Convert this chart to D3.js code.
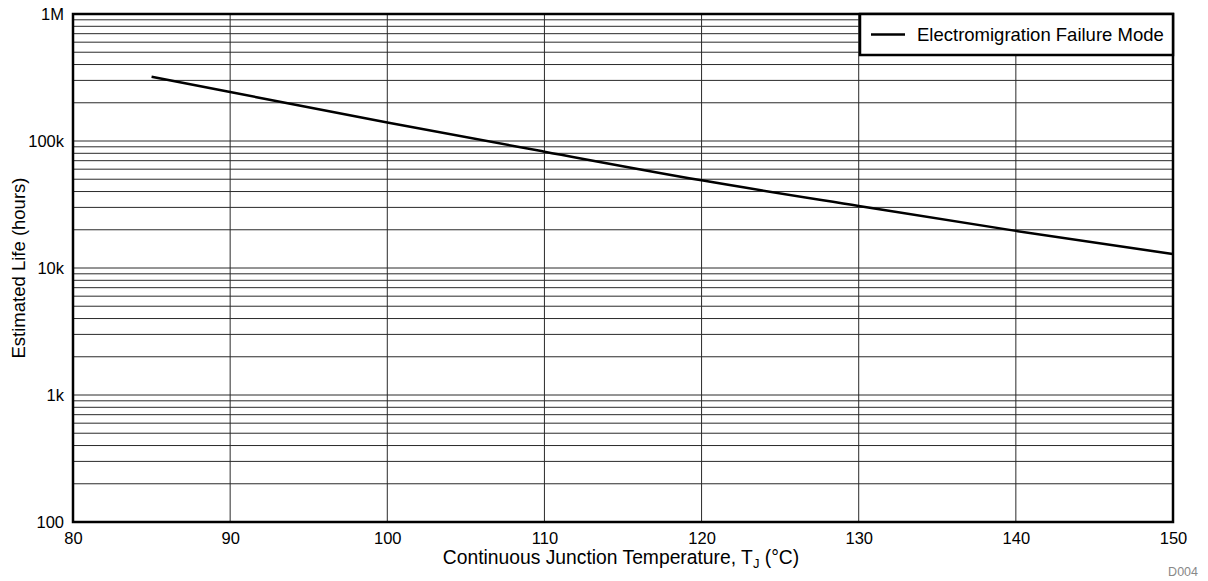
<!DOCTYPE html>
<html lang="en">
<head>
<meta charset="UTF-8">
<title>Estimated Life vs Junction Temperature</title>
<script src="https://cdn.jsdelivr.net/npm/d3@7/dist/d3.min.js"></script>
<style>
  body { margin: 0; background: #fff; }
  text { font-family: "Liberation Sans", Arial, sans-serif; fill: #000; }
</style>
</head>
<body>
<div id="container"></div>
<script>
// data
let temps = [85, 90, 100, 110, 120, 130, 140, 150];
let life = [321000, 243000, 140000, 82400, 49000, 30800, 19600, 12900];
let xTicks = [80, 90, 100, 110, 120, 130, 140, 150];
let yTicks = [100, 1000, 10000, 100000, 1000000];
let yTickLabels = ["100", "1k", "10k", "100k", "1M"];
let seriesName = "Electromigration Failure Mode";

let W = 1208, H = 581;
let margin = {left: 73, right: 35, top: 14, bottom: 59};

let svg = d3.select('#container')
    .append('svg')
    .attr('width', W)
    .attr('height', H);

let x = d3.scaleLinear()
    .domain([80, 150])
    .range([margin.left, W - margin.right]);

let y = d3.scaleLog()
    .domain([100, 1000000])
    .range([H - margin.bottom, margin.top]);

// grid
let grid = svg.append('g').attr('stroke', '#2a2a2a').attr('stroke-width', 1);
grid.selectAll('line.h')
    .data(y.ticks())
    .enter().append('line')
    .attr('x1', x.range()[0]).attr('x2', x.range()[1])
    .attr('y1', d => y(d)).attr('y2', d => y(d));
grid.selectAll('line.v')
    .data(xTicks.slice(1, -1))
    .enter().append('line')
    .attr('x1', d => x(d)).attr('x2', d => x(d))
    .attr('y1', y.range()[0]).attr('y2', y.range()[1]);

// axes (labels only)
let yAxis = svg.append('g')
    .attr('transform', 'translate(' + margin.left + ',0)')
    .call(d3.axisLeft(y).tickValues(yTicks).tickSize(0).tickPadding(9)
        .tickFormat((d, i) => yTickLabels[i]));
let xAxis = svg.append('g')
    .attr('transform', 'translate(0,' + (H - margin.bottom) + ')')
    .call(d3.axisBottom(x).tickValues(xTicks).tickSize(0).tickPadding(10)
        .tickFormat(d3.format('d')));
[xAxis, yAxis].forEach(a => {
    a.select('.domain').remove();
    a.selectAll('text').attr('font-size', 16.5).attr('font-family', '"Liberation Sans", Arial, sans-serif');
});

// series line
let line = d3.line()
    .x((d, i) => x(temps[i]))
    .y(d => y(d))
    .curve(d3.curveMonotoneX);
svg.append('path')
    .datum(life)
    .attr('d', line)
    .attr('fill', 'none')
    .attr('stroke', '#000')
    .attr('stroke-width', 2.5);

// frame
svg.append('rect')
    .attr('x', x.range()[0]).attr('y', y.range()[1])
    .attr('width', x.range()[1] - x.range()[0])
    .attr('height', y.range()[0] - y.range()[1])
    .attr('fill', 'none')
    .attr('stroke', '#000')
    .attr('stroke-width', 2.5);

// legend
let lg = svg.append('g');
lg.append('rect')
    .attr('x', 860).attr('y', y.range()[1])
    .attr('width', x.range()[1] - 860).attr('height', 41)
    .attr('fill', '#fff')
    .attr('stroke', '#000')
    .attr('stroke-width', 2.5);
lg.append('line')
    .attr('x1', 871).attr('x2', 905)
    .attr('y1', 34.5).attr('y2', 34.5)
    .attr('stroke', '#000').attr('stroke-width', 2.5);
lg.append('text')
    .attr('x', 917).attr('y', 41)
    .attr('font-size', 18.5)
    .text(seriesName);

// axis titles
let xt = svg.append('text')
    .attr('x', 621)
    .attr('y', 564)
    .attr('text-anchor', 'middle')
    .attr('font-size', 19.3);
xt.append('tspan').text('Continuous Junction Temperature, T');
xt.append('tspan').attr('font-size', 13).attr('dy', 4).text('J');
xt.append('tspan').attr('dy', -4).text(' (°C)');

svg.append('text')
    .attr('transform', 'translate(25,' + ((y.range()[0] + y.range()[1]) / 2) + ') rotate(-90)')
    .attr('text-anchor', 'middle')
    .attr('font-size', 18.5)
    .text('Estimated Life (hours)');

svg.append('text')
    .attr('x', 1198).attr('y', 576)
    .attr('text-anchor', 'end')
    .attr('font-size', 12.5)
    .style('fill', '#888')
    .text('D004');
</script>
</body>
</html>
